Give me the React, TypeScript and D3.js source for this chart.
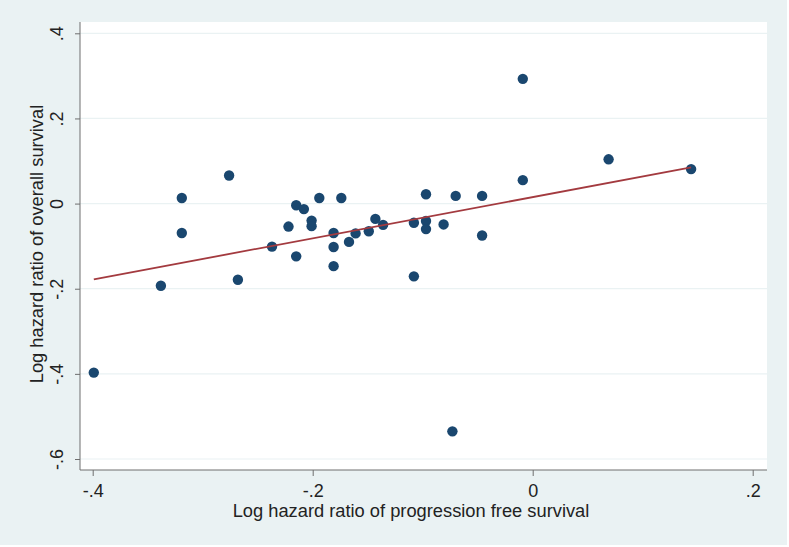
import React, { useRef, useEffect } from "react";
import * as d3 from "d3";

// log HR of progression free survival (x) vs log HR of overall survival (y)
const pfsLogHR = [
  -0.319, -0.276, -0.319, -0.215, -0.208, -0.194, -0.174, -0.201, -0.201, -0.222,
  -0.181, -0.161, -0.149, -0.143, -0.136, -0.167, -0.237, -0.181, -0.215, -0.181,
  -0.268, -0.338, -0.399, -0.009, 0.069, 0.144, -0.009, -0.097, -0.07, -0.046,
  -0.108, -0.097, -0.097, -0.081, -0.046, -0.108, -0.073,
];
const osLogHR = [
  0.013, 0.066, -0.069, -0.004, -0.013, 0.013, 0.013, -0.04, -0.053, -0.054,
  -0.069, -0.07, -0.065, -0.036, -0.05, -0.09, -0.101, -0.102, -0.124, -0.147,
  -0.179, -0.193, -0.397, 0.293, 0.104, 0.081, 0.055, 0.022, 0.018, 0.018,
  -0.045, -0.041, -0.06, -0.049, -0.075, -0.171, -0.535,
];
// fitted line endpoints
const fitX = [-0.399, 0.144];
const fitY = [-0.178, 0.085];

const xTicks = [-0.4, -0.2, 0, 0.2];
const xTickLabels = ["-.4", "-.2", "0", ".2"];
const yTicks = [0.4, 0.2, 0, -0.2, -0.4, -0.6];
const yTickLabels = [".4", ".2", "0", "-.2", "-.4", "-.6"];

const xTitle = "Log hazard ratio of progression free survival";
const yTitle = "Log hazard ratio of overall survival";

const App = () => {
  const svgRef = useRef<SVGSVGElement>(null);

  useEffect(() => {
    const width = 789;
    const height = 547;
    const plot = { left: 80, right: 767, top: 22, bottom: 470 };
    const font = "'Liberation Sans', Arial, sans-serif";

    const svg = d3.select(svgRef.current);
    svg.selectAll("*").remove();

    svg
      .append("rect")
      .attr("width", width - 2)
      .attr("height", height - 2)
      .attr("fill", "#eaf2f3");

    svg
      .append("rect")
      .attr("x", plot.left)
      .attr("y", plot.top)
      .attr("width", plot.right - plot.left)
      .attr("height", plot.bottom - plot.top)
      .attr("fill", "#ffffff");

    const x = d3.scaleLinear().domain([-0.4, 0.2]).range([92.7, 752.7]);
    const y = d3.scaleLinear().domain([-0.6, 0.4]).range([459, 33.3]);

    // gridlines
    svg
      .append("g")
      .selectAll("line")
      .data(yTicks)
      .enter()
      .append("line")
      .attr("x1", plot.left)
      .attr("x2", plot.right)
      .attr("y1", (d) => y(d))
      .attr("y2", (d) => y(d))
      .attr("stroke", "#eaf2f3")
      .attr("stroke-width", 1.2);

    // y axis
    const yAxis = d3
      .axisLeft(y)
      .tickValues(yTicks)
      .tickSize(5)
      .tickPadding(5)
      .tickFormat((_, i) => yTickLabels[i]);
    const gy = svg
      .append("g")
      .attr("transform", `translate(${plot.left},0)`)
      .call(yAxis);
    gy.select(".domain").attr("d", `M0,${plot.top}V${plot.bottom}`).attr("stroke", "#6e6e6e");
    gy.selectAll(".tick line").attr("stroke", "#6e6e6e");
    gy.selectAll(".tick text")
      .attr("transform", "rotate(-90)")
      .attr("x", 0)
      .attr("y", -17)
      .attr("dy", 0)
      .attr("text-anchor", "middle")
      .attr("fill", "#222")
      .style("font-family", font)
      .style("font-size", "18px");

    // x axis
    const xAxis = d3
      .axisBottom(x)
      .tickValues(xTicks)
      .tickSize(6)
      .tickPadding(6)
      .tickFormat((_, i) => xTickLabels[i]);
    const gx = svg
      .append("g")
      .attr("transform", `translate(0,${plot.bottom})`)
      .call(xAxis);
    gx.select(".domain").attr("d", `M${plot.left},0H${plot.right}`).attr("stroke", "#6e6e6e");
    gx.selectAll(".tick line").attr("stroke", "#6e6e6e");
    gx.selectAll(".tick text")
      .attr("y", 27)
      .attr("dy", 0)
      .attr("fill", "#222")
      .style("font-family", font)
      .style("font-size", "18px");

    // points
    svg
      .append("g")
      .selectAll("circle")
      .data(pfsLogHR)
      .enter()
      .append("circle")
      .attr("cx", (d) => x(d))
      .attr("cy", (_, i) => y(osLogHR[i]))
      .attr("r", 5.2)
      .attr("fill", "#1a476f");

    // fitted line
    const line = d3
      .line<number>()
      .x((d) => x(d))
      .y((_, i) => y(fitY[i]));
    svg
      .append("path")
      .datum(fitX)
      .attr("d", line)
      .attr("fill", "none")
      .attr("stroke", "#a33a3f")
      .attr("stroke-width", 1.8);

    // titles
    svg
      .append("text")
      .attr("x", 411)
      .attr("y", 517)
      .attr("text-anchor", "middle")
      .attr("fill", "#222")
      .style("font-family", font)
      .style("font-size", "18.3px")
      .text(xTitle);

    svg
      .append("text")
      .attr("transform", `translate(43,${244}) rotate(-90)`)
      .attr("text-anchor", "middle")
      .attr("fill", "#222")
      .style("font-family", font)
      .style("font-size", "18.3px")
      .text(yTitle);
  }, []);

  return (
    <svg
      ref={svgRef}
      width={789}
      height={547}
      style={{ position: "absolute", left: 0, top: 0, background: "#fff" }}
    ></svg>
  );
};

export default App;
